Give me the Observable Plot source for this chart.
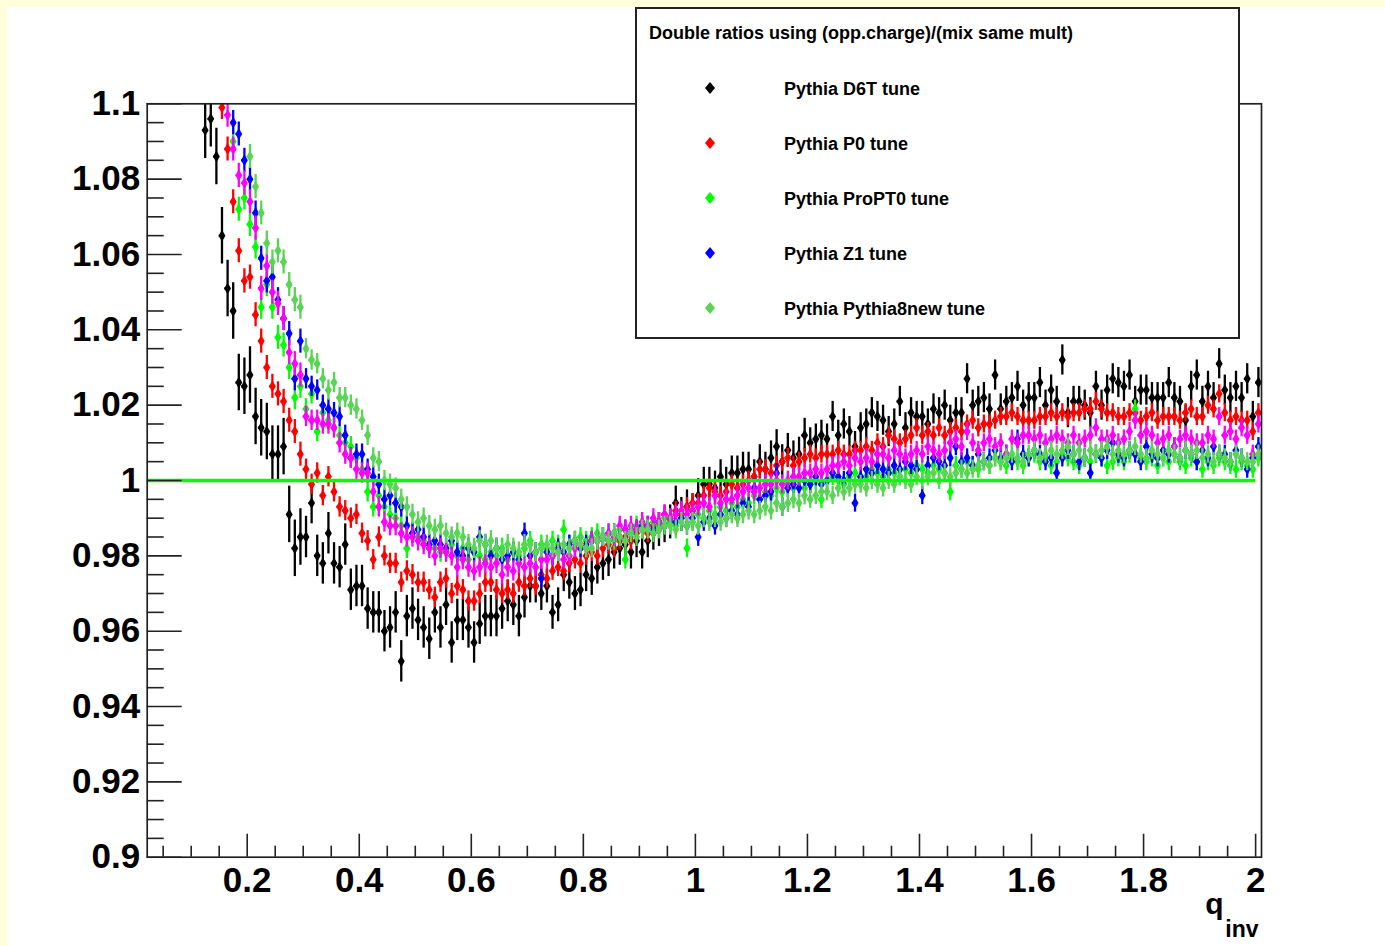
<!DOCTYPE html>
<html><head><meta charset="utf-8">
<script src="https://cdn.jsdelivr.net/npm/d3@7"></script>
<script src="https://cdn.jsdelivr.net/npm/@observablehq/plot@0.6"></script>
<style>
html,body{margin:0;padding:0;background:#ffffdc;width:1385px;height:946px;overflow:hidden;font-family:"Liberation Sans",Arial,Helvetica,sans-serif}
#canvas{position:absolute;left:7px;top:7px;width:1378px;height:939px;background:#fff}
#legend{position:absolute;left:635px;top:7px;width:605px;height:332px;box-sizing:border-box;border:2px solid #222;background:#fff}
#legend svg{position:absolute;left:0;top:0}
</style>
</head><body>
<div id="canvas"></div>
<div id="legend"></div>
<script>
// ---------------- data ----------------
const legendTitle = "Double ratios using (opp.charge)/(mix same mult)";
const seriesNames = ["Pythia D6T tune", "Pythia P0 tune", "Pythia ProPT0 tune", "Pythia Z1 tune", "Pythia (magenta, no legend entry)", "Pythia Pythia8new tune"];
const seriesColors = ["#000000", "#ff0000", "#00ff00", "#0000ff", "#ff00ff", "#59d454"];
const inLegend = [true, true, true, true, false, true];
// draw order follows the arrays above

const xStart = 0.125;   // first bin centre (q_inv)
const binWidth = 0.01;

const d6tFirstBin = 0;
const d6t = [
1.093,1.096,1.086,1.065,1.051,1.045,1.026,1.025,1.028,1.017,
1.014,1.013,1.007,1.007,1.009,0.991,0.982,0.985,0.985,0.994,
0.980,0.978,0.986,0.978,0.977,0.983,0.971,0.972,0.972,0.966,
0.965,0.965,0.960,0.961,0.965,0.952,0.964,0.966,0.963,0.961,
0.958,0.965,0.961,0.967,0.957,0.963,0.963,0.961,0.957,0.962,
0.964,0.964,0.964,0.966,0.968,0.967,0.964,0.969,0.972,0.972,
0.970,0.972,0.965,0.967,0.975,0.973,0.970,0.971,0.975,0.974,
0.977,0.978,0.979,0.981,0.982,0.983,0.981,0.984,0.981,0.984,
0.986,0.987,0.988,0.989,0.994,0.991,0.993,0.992,0.996,0.999,
0.999,0.998,1.001,0.999,1.002,1.002,1.003,1.003,1.001,1.005,
1.003,1.006,1.009,1.005,1.008,1.006,1.007,1.012,1.010,1.011,
1.012,1.011,1.017,1.012,1.015,1.013,1.009,1.014,1.015,1.018,
1.017,1.016,1.013,1.015,1.021,1.014,1.018,1.017,1.017,1.015,
1.019,1.018,1.020,1.016,1.018,1.018,1.027,1.020,1.021,1.022,
1.019,1.028,1.019,1.021,1.022,1.025,1.020,1.022,1.022,1.026,
1.020,1.024,1.021,1.032,1.018,1.021,1.021,1.020,1.018,1.025,
1.020,1.024,1.027,1.026,1.025,1.028,1.021,1.024,1.024,1.022,
1.022,1.022,1.026,1.022,1.021,1.016,1.025,1.028,1.021,1.025,
1.022,1.031,1.024,1.022,1.025,1.022,1.027,1.017,1.026];

const p0FirstBin = 3;
const p0 = [
1.099,1.088,1.074,1.061,1.053,1.054,1.044,
1.037,1.030,1.025,1.023,1.021,1.016,1.013,1.007,1.003,0.999,
1.002,0.996,1.001,0.997,0.993,0.992,0.990,0.991,0.986,0.984,
0.979,0.985,0.980,0.978,0.978,0.973,0.976,0.975,0.973,0.973,
0.971,0.969,0.973,0.974,0.970,0.972,0.971,0.968,0.968,0.970,
0.973,0.973,0.971,0.970,0.971,0.970,0.973,0.972,0.974,0.972,
0.975,0.974,0.976,0.977,0.976,0.978,0.979,0.978,0.980,0.981,
0.980,0.982,0.983,0.982,0.984,0.985,0.984,0.986,0.987,0.986,
0.988,0.989,0.991,0.990,0.992,0.991,0.993,0.994,0.994,0.996,
0.998,0.997,0.996,0.997,0.999,0.998,0.999,1.000,1.001,1.003,
1.003,1.002,1.004,1.005,1.006,1.004,1.005,1.006,1.007,1.006,
1.007,1.007,1.007,1.008,1.007,1.007,1.008,1.008,1.009,1.008,
1.010,1.009,1.012,1.011,1.010,1.011,1.012,1.014,1.012,1.013,
1.012,1.014,1.012,1.013,1.014,1.013,1.015,1.016,1.014,1.015,
1.015,1.016,1.017,1.017,1.018,1.017,1.016,1.016,1.016,1.017,
1.017,1.018,1.017,1.018,1.017,1.018,1.018,1.019,1.019,1.021,
1.019,1.018,1.018,1.017,1.017,1.018,1.018,1.016,1.017,1.018,
1.016,1.017,1.017,1.017,1.016,1.018,1.019,1.017,1.017,1.020,
1.019,1.023,1.018,1.016,1.017,1.016,1.016,1.013,1.018];

const proPT0FirstBin = 5;
const proPT0 = [
1.090,1.072,1.075,1.068,1.062,
1.046,1.052,1.046,1.038,1.036,1.030,1.022,1.025,1.019,1.023,
1.013,1.018,1.016,1.014,1.012,1.010,1.009,1.006,1.003,0.997,
0.993,0.996,0.993,0.991,0.990,0.988,0.982,0.986,0.985,0.984,
0.983,0.982,0.981,0.981,0.983,0.980,0.982,0.979,0.981,0.980,
0.979,0.981,0.980,0.982,0.979,0.981,0.980,0.982,0.984,0.981,
0.983,0.982,0.984,0.983,0.987,0.983,0.984,0.985,0.984,0.985,
0.986,0.985,0.986,0.984,0.987,0.979,0.986,0.988,0.987,0.988,
0.989,0.988,0.990,0.989,0.988,0.990,0.982,0.989,0.991,0.990,
0.992,0.991,0.993,0.992,0.994,0.993,0.995,0.994,0.996,0.995,
0.997,0.996,0.998,0.997,0.999,0.998,1.000,0.998,0.999,1.000,
0.995,1.000,1.001,1.000,0.999,1.001,1.002,1.000,1.001,1.003,
1.002,1.001,1.003,1.002,1.001,1.003,1.002,1.004,1.003,1.002,
1.004,1.003,1.002,0.997,1.004,1.003,1.005,1.004,1.003,1.005,
1.004,1.006,1.005,1.004,1.006,1.005,1.004,1.006,1.007,1.005,
1.006,1.004,1.005,1.007,1.006,1.005,1.004,1.006,1.005,1.007,
1.006,1.004,1.005,1.006,1.005,1.007,1.019,1.006,1.005,1.006,
1.004,1.006,1.005,1.007,1.005,1.004,1.006,1.005,1.003,1.005,
1.004,1.006,1.005,1.004,1.003,1.005,1.004,1.003,1.006];

const z1FirstBin = 5;
const z1 = [
1.095,1.092,1.085,1.080,1.071,
1.059,1.053,1.054,1.048,1.043,1.039,1.027,1.037,1.027,1.025,
1.024,1.020,1.019,1.018,1.017,1.012,1.006,1.007,1.007,1.003,
1.001,0.999,0.995,0.996,0.994,0.993,0.988,0.986,0.987,0.985,
0.983,0.984,0.983,0.982,0.984,0.981,0.980,0.982,0.981,0.985,
0.983,0.980,0.982,0.979,0.980,0.981,0.979,0.986,0.980,0.981,
0.974,0.981,0.980,0.982,0.981,0.983,0.984,0.982,0.983,0.984,
0.984,0.985,0.984,0.986,0.985,0.987,0.986,0.987,0.988,0.988,
0.987,0.989,0.988,0.990,0.989,0.990,0.988,0.990,0.985,0.989,
0.990,0.988,0.991,0.990,0.992,0.991,0.994,0.993,0.998,0.995,
0.996,0.997,1.002,0.993,0.998,0.999,0.998,1.000,0.999,1.001,
0.999,1.000,1.002,1.001,1.000,1.002,0.994,1.001,1.003,1.002,
1.004,1.003,1.002,1.004,1.003,1.005,1.004,1.003,0.996,1.004,
1.006,1.005,1.004,1.006,1.009,1.005,1.006,1.004,1.007,1.005,
1.006,1.008,1.006,1.007,1.005,1.011,1.007,1.006,1.008,1.007,
1.005,1.006,1.002,1.006,1.008,1.007,1.005,1.006,1.002,1.007,
1.006,1.008,1.010,1.007,1.006,1.008,1.007,1.005,1.009,1.007,
1.006,1.008,1.007,1.009,1.006,1.008,1.007,1.005,1.008,1.006,
1.009,1.007,1.007,1.005,1.008,1.006,1.003,1.006,1.009];

const magentaFirstBin = 4;
const magenta = [
1.097,1.088,1.081,1.079,1.074,1.067,
1.051,1.057,1.050,1.047,1.043,1.034,1.031,1.028,1.017,1.016,
1.016,1.015,1.015,1.014,1.010,1.007,1.006,1.003,1.002,1.002,
0.997,0.993,0.989,0.988,0.988,0.986,0.985,0.985,0.984,0.983,
0.982,0.980,0.982,0.981,0.980,0.977,0.979,0.977,0.976,0.977,
0.978,0.977,0.978,0.975,0.977,0.976,0.978,0.977,0.978,0.977,
0.979,0.979,0.980,0.981,0.979,0.980,0.982,0.983,0.982,0.984,
0.984,0.985,0.986,0.985,0.988,0.987,0.988,0.987,0.989,0.988,
0.990,0.989,0.991,0.990,0.991,0.992,0.991,0.992,0.993,0.994,
0.993,0.996,0.994,0.995,0.995,0.996,0.997,0.998,0.997,0.998,
0.999,0.999,1.000,0.999,1.000,1.001,1.001,1.002,1.002,1.003,
1.002,1.003,1.004,1.004,1.005,1.004,1.006,1.005,1.006,1.005,
1.007,1.007,1.006,1.008,1.007,1.006,1.007,1.008,1.007,1.009,
1.008,1.007,1.008,1.010,1.011,1.009,1.013,1.010,1.008,1.010,
1.011,1.009,1.010,1.007,1.011,1.010,1.012,1.012,1.011,1.012,
1.010,1.011,1.012,1.011,1.010,1.012,1.010,1.011,1.012,1.014,
1.011,1.011,1.012,1.010,1.011,1.013,1.016,1.012,1.013,1.012,
1.010,1.011,1.012,1.009,1.011,1.012,1.011,1.010,1.010,1.012,
1.011,1.017,1.012,1.013,1.011,1.014,1.012,1.007,1.015];

const p8newFirstBin = 8;
const p8new = [
1.086,1.078,
1.071,1.063,1.058,1.061,1.058,1.052,1.048,1.046,1.035,1.032,
1.031,1.027,1.024,1.026,1.022,1.022,1.020,1.019,1.016,1.012,
1.006,1.005,1.000,0.999,0.998,0.995,0.993,0.991,0.989,0.990,
0.988,0.987,0.988,0.986,0.985,0.986,0.985,0.983,0.982,0.984,
0.983,0.984,0.982,0.981,0.983,0.982,0.981,0.983,0.983,0.981,
0.982,0.983,0.982,0.981,0.983,0.982,0.984,0.983,0.982,0.982,
0.984,0.985,0.984,0.986,0.985,0.984,0.986,0.985,0.987,0.987,
0.986,0.987,0.988,0.988,0.987,0.989,0.988,0.989,0.988,0.990,
0.989,0.990,0.989,0.990,0.991,0.990,0.991,0.992,0.991,0.992,
0.993,0.992,0.994,0.993,0.994,0.995,0.994,0.996,0.995,0.996,
0.997,0.997,0.996,0.998,0.997,0.998,0.999,0.999,0.998,1.000,
0.999,0.998,1.000,0.999,1.001,1.000,0.999,1.001,1.000,1.001,
1.002,1.000,1.002,1.001,1.002,1.003,1.002,1.003,1.004,1.005,
1.004,1.006,1.005,1.006,1.007,1.006,1.005,1.007,1.008,1.006,
1.007,1.008,1.007,1.008,1.009,1.007,1.008,1.006,1.008,1.007,
1.008,1.009,1.007,1.008,1.007,1.008,1.009,1.007,1.006,1.008,
1.007,1.006,1.008,1.007,1.006,1.008,1.007,1.008,1.006,1.007,
1.005,1.007,1.006,1.005,1.007,1.006,1.005,1.005,1.007];

// statistical errors (half-length of the vertical bars), by q_inv range
const errEdges = [0.3, 0.7, 1.2];
const errD6T   = [0.0075, 0.0055, 0.0045, 0.0040];
const errOthers= [0.0032, 0.0027, 0.0025, 0.0024];

const seriesValues = [d6t, p0, proPT0, z1, magenta, p8new];
const seriesFirstBins = [d6tFirstBin, p0FirstBin, proPT0FirstBin, z1FirstBin, magentaFirstBin, p8newFirstBin];

// axes
const xTicks = [0.2, 0.4, 0.6, 0.8, 1, 1.2, 1.4, 1.6, 1.8, 2];
const yTicks = [0.9, 0.92, 0.94, 0.96, 0.98, 1, 1.02, 1.04, 1.06, 1.08, 1.1];
const xDomain = [0.0215, 2.0105];
const yDomain = [0.9, 1.1];
const referenceLevel = 1;
const referenceRange = [0, 2];

// ---------------- build ----------------
const W = 1378, H = 939;
const mL = 139.7, mR = 124, mT = 96.3, mB = 89.3;
const innerW = W - mL - mR, innerH = H - mT - mB;

const xMinor = d3.range(1, 41).map(k => +(k * 0.05).toFixed(2)).filter(v => v <= xDomain[1] && Math.abs(v / 0.2 - Math.round(v / 0.2)) > 1e-6);
const yMinor = d3.range(0, 41).map(k => +(0.9 + k * 0.005).toFixed(3)).filter(v => Math.abs((v - 0.9) / 0.02 - Math.round((v - 0.9) / 0.02)) > 1e-6);

const tables = seriesValues.map((vals, s) => vals.map((y, k) => {
  const x = +(xStart + (seriesFirstBins[s] + k) * binWidth).toFixed(3);
  const tab = s === 0 ? errD6T : errOthers;
  const err = tab[d3.bisectRight(errEdges, x)];
  return {series: seriesNames[s], x, y, err};
}));

const font = '"Liberation Sans", Arial, Helvetica, sans-serif';
const axisColor = "#222";

const dataMarks = [];
tables.forEach((rows, s) => {
  const c = seriesColors[s];
  dataMarks.push(
    Plot.ruleX(rows, {x: "x", y1: d => d.y - d.err, y2: d => d.y + d.err, stroke: c, strokeWidth: 2.3, clip: true}),
    Plot.ruleY(rows, {y: "y", x1: d => d.x - binWidth / 2, x2: d => d.x + binWidth / 2, stroke: c, strokeWidth: 2.3, clip: true}),
    Plot.dot(rows, {x: "x", y: "y", symbol: "diamond", r: 3.6, fill: c, stroke: "none", clip: true})
  );
});

const chart = Plot.plot({
  width: W, height: H,
  marginLeft: mL, marginRight: mR, marginTop: mT, marginBottom: mB,
  x: {domain: xDomain},
  y: {domain: yDomain},
  style: {background: "#fff", fontFamily: font, color: "#000", overflow: "visible"},
  marks: [
    ...dataMarks,
    Plot.ruleY([referenceLevel], {x1: referenceRange[0], x2: referenceRange[1], stroke: "#00ff00", strokeWidth: 3.6, clip: true}),
    // ticks drawn inside the frame (ROOT style)
    Plot.tickX(xTicks, {x: d => d, insetTop: innerH - 23, stroke: axisColor, strokeWidth: 1.6}),
    Plot.tickX(xMinor, {x: d => d, insetTop: innerH - 11, stroke: axisColor, strokeWidth: 1.6}),
    Plot.tickY(yTicks, {y: d => d, insetRight: innerW - 35, stroke: axisColor, strokeWidth: 1.6}),
    Plot.tickY(yMinor, {y: d => d, insetRight: innerW - 17, stroke: axisColor, strokeWidth: 1.6}),
    Plot.axisX(xTicks, {anchor: "bottom", tickSize: 0, tickPadding: 10, label: null, fontSize: 35, fontWeight: "bold", tickFormat: d => String(d)}),
    Plot.axisY(yTicks, {anchor: "left", tickSize: 0, tickPadding: 7, label: null, fontSize: 35, fontWeight: "bold", tickFormat: d => String(d)}),
    Plot.text(["q"], {text: d => d, frameAnchor: "bottom-right", textAnchor: "end", lineAnchor: "bottom", dx: -38, dy: 57, fontSize: 30, fontWeight: "bold"}),
    Plot.text(["inv"], {text: d => d, frameAnchor: "bottom-right", textAnchor: "end", lineAnchor: "bottom", dx: -3, dy: 80, fontSize: 23, fontWeight: "bold"}),
    Plot.frame({stroke: axisColor, strokeWidth: 1.7})
  ]
});
document.getElementById("canvas").appendChild(chart);

// ---------------- legend ----------------
const lg = d3.select("#legend").append("svg").attr("width", 601).attr("height", 328)
  .style("font-family", font).style("font-weight", "bold").style("font-size", "18px");
lg.append("text").attr("x", 12).attr("y", 30).text(legendTitle);
const entries = seriesNames.map((n, i) => ({name: n, color: seriesColors[i]})).filter((d, i) => inLegend[i]);
entries.forEach((e, i) => {
  const cy = 79 + i * 55;
  lg.append("path").attr("d", `M73,${cy - 6}L78,${cy}L73,${cy + 6}L68,${cy}Z`).attr("fill", e.color);
  lg.append("text").attr("x", 147).attr("y", cy + 6.5).text(e.name);
});
</script>
</body></html>
